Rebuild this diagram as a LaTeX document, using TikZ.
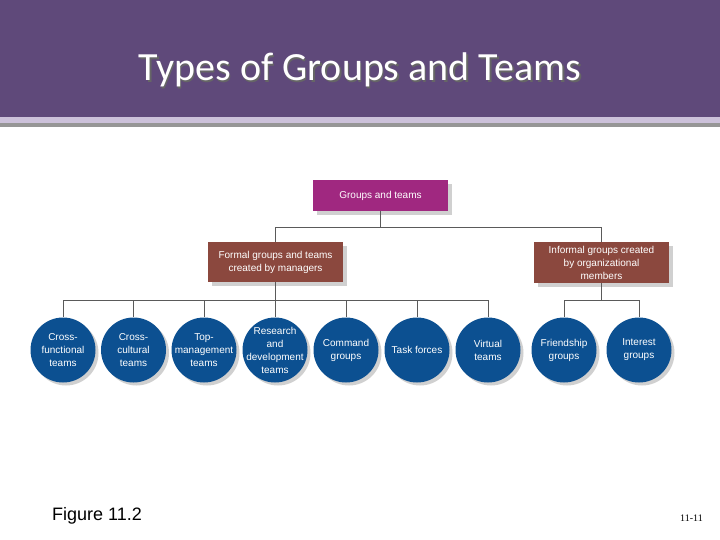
\documentclass[tikz,border=0pt]{standalone}
\usepackage{fontspec}
\setmainfont{Liberation Sans}
\newfontfamily\titlefont{Carlito}
\newfontfamily\pagefont{Liberation Serif}
\usepackage{tikz}
\usetikzlibrary{shadows}

\begin{document}
\begin{tikzpicture}[x=1pt, y=-1pt,
    groupbox/.style={rectangle, minimum width=135pt, text=white, align=center,
        font=\fontsize{10}{13}\selectfont, inner sep=0pt,
        drop shadow={shadow xshift=4pt, shadow yshift=-4pt, opacity=0.3, fill=black!60}},
    teamcircle/.style={circle, fill=teamblue, minimum size=65pt, inner sep=-12pt,
        text=white, align=center, font=\fontsize{10}{13}\selectfont,
        drop shadow={shadow xshift=3pt, shadow yshift=-3pt, opacity=0.3, fill=black!60}},
    link/.style={draw=linegray, line width=0.8pt}]
    % Colours of the slide
    \definecolor{headpurple}{RGB}{95, 73, 122}
    \definecolor{headlilac}{RGB}{204, 193, 218}
    \definecolor{headgray}{RGB}{150, 150, 150}
    \definecolor{topmagenta}{RGB}{160, 40, 128}
    \definecolor{boxbrown}{RGB}{139, 72, 62}
    \definecolor{teamblue}{RGB}{12, 80, 145}
    \definecolor{linegray}{RGB}{90, 90, 90}

    \useasboundingbox (0, 0) rectangle (720, 540);
    \fill[white] (0, 0) rectangle (720, 540);

    % 1. Title band
    \fill[headpurple] (0, 0) rectangle (720, 117);
    \fill[headlilac] (0, 117) rectangle (720, 123);
    \fill[headgray] (0, 123) rectangle (720, 127);
    \node[text=black!60, font=\titlefont\fontsize{40}{48}\selectfont] at (361.5, 71.5) {Types of Groups and Teams};
    \node[text=white, font=\titlefont\fontsize{40}{48}\selectfont] (title) at (360, 70) {Types of Groups and Teams};

    % 2. Boxes
    \node[groupbox, fill=topmagenta, minimum height=31pt] (top) at (380.5, 195.5) {Groups and teams};
    \node[groupbox, fill=boxbrown, minimum height=40pt] (formal) at (275.5, 262) {Formal groups and teams\\created by managers};
    \node[groupbox, fill=boxbrown, minimum height=41pt] (informal) at (601.5, 262.5) {Informal groups created\\by organizational\\members};

    % 3. Circles
    \node[teamcircle] (c1) at (63, 350) {Cross-\\functional\\teams};
    \node[teamcircle] (c2) at (133.5, 350) {Cross-\\cultural\\teams};
    \node[teamcircle] (c3) at (204, 350) {Top-\\management\\teams};
    \node[teamcircle] (c4) at (275, 350) {Research\\and\\development\\teams};
    \node[teamcircle] (c5) at (346, 350) {Command\\groups};
    \node[teamcircle] (c6) at (417, 350) {Task forces};
    \node[teamcircle] (c7) at (488, 350) {Virtual\\teams};
    \node[teamcircle] (c8) at (564, 350) {Friendship\\groups};
    \node[teamcircle] (c9) at (639, 350) {Interest\\groups};

    % 4. Connectors
    \draw[link] (top.south) -- ++(0, 16) -| (formal.north);
    \draw[link] (top.south) -- ++(0, 16) -| (informal.north);
    \foreach \i in {1,...,7}
        \draw[link] (formal.south) -- ++(0, 18) -| (c\i.north);
    \foreach \i in {8,9}
        \draw[link] (informal.south) -- ++(0, 17.5) -| (c\i.north);

    % 5. Footer
    \node[anchor=base west, font=\fontsize{18}{22}\selectfont, inner sep=0pt] (fig) at (52, 520) {Figure 11.2};
    \node[anchor=base east, font=\pagefont\fontsize{10}{12}\selectfont, inner sep=0pt] (page) at (703, 521) {11-11};
\end{tikzpicture}
\end{document}
